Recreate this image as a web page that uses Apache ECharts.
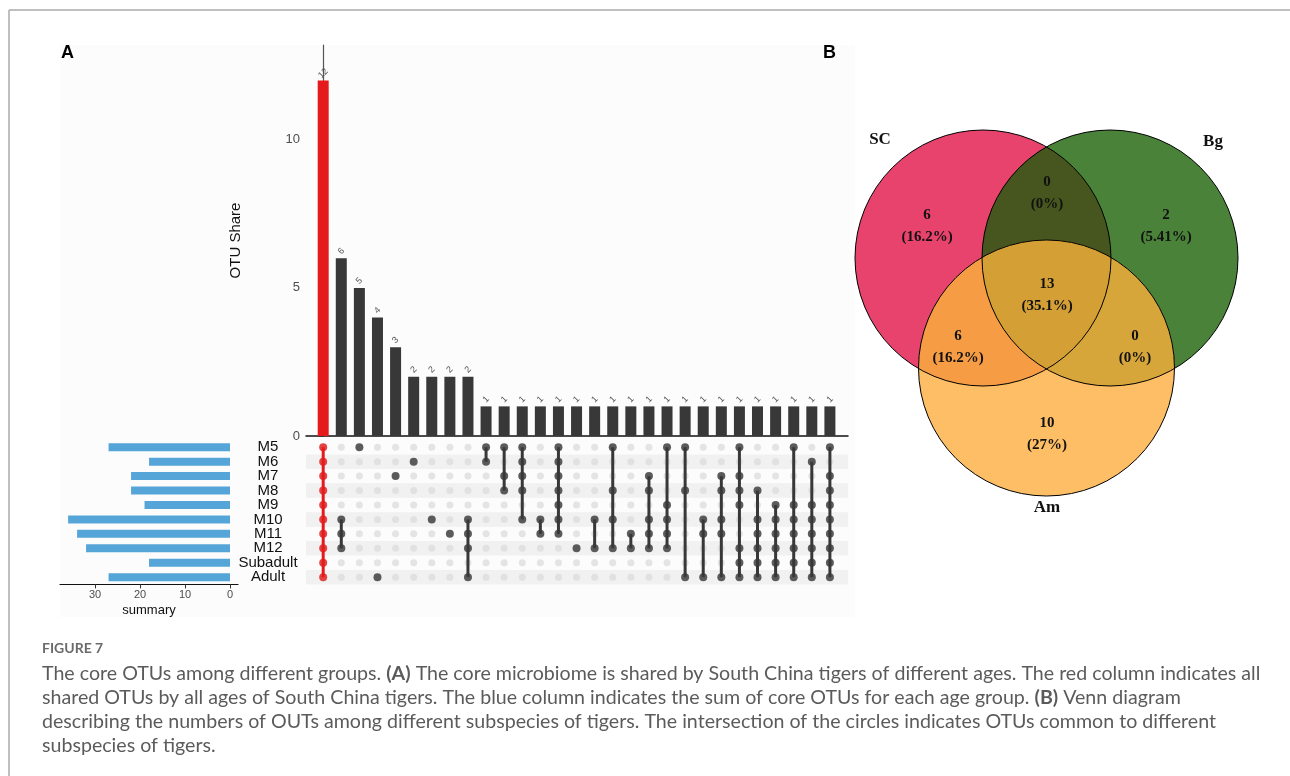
<!DOCTYPE html>
<html><head><meta charset="utf-8">
<script src="https://cdn.jsdelivr.net/npm/echarts@6/dist/echarts.min.js"></script>
<style>html,body{margin:0;padding:0;background:#fff}#c{width:1290px;height:776px}</style>
</head><body><div id="c"></div>
<script>
// ---------------- DATA ----------------
const setNames = ['M5','M6','M7','M8','M9','M10','M11','M12','Subadult','Adult'];
const setSizes = [27,18,22,22,19,36,34,32,18,27];
const intersectionSizes = [12,6,5,4,3,2,2,2,2,1,1,1,1,1,1,1,1,1,1,1,1,1,1,1,1,1,1,1,1];
const intersectionMembers = [
  ['M5','M6','M7','M8','M9','M10','M11','M12','Subadult','Adult'],
  ['M10','M11','M12'],
  ['M5'],
  ['Adult'],
  ['M7'],
  ['M6'],
  ['M10'],
  ['M11'],
  ['M10','M11','M12','Adult'],
  ['M5','M6'],
  ['M5','M7','M8'],
  ['M5','M6','M7','M8','M10'],
  ['M10','M11'],
  ['M5','M6','M7','M8','M9','M10','M11'],
  ['M12'],
  ['M10','M12'],
  ['M5','M8','M10','M12'],
  ['M11','M12'],
  ['M7','M8','M10','M11','M12'],
  ['M5','M9','M10','M11','M12'],
  ['M5','M8','Adult'],
  ['M10','M11','Adult'],
  ['M7','M8','M10','M11','Adult'],
  ['M5','M7','M8','M9','M12','Subadult','Adult'],
  ['M8','M10','M11','M12','Subadult','Adult'],
  ['M9','M10','M11','M12','Subadult','Adult'],
  ['M5','M9','M10','M11','M12','Subadult','Adult'],
  ['M6','M9','M10','M11','M12','Subadult','Adult'],
  ['M5','M7','M8','M9','M10','M11','M12','Subadult','Adult']
];
const highlightIntersection = 0;
const topTicks = [0,5,10];
const leftTicks = [0,10,20,30];
const topAxisName = 'OTU Share';
const leftAxisName = 'summary';

const vennSetNames = ['SC','Bg','Am'];
const vennRegionKeys = ['SC','Bg','Am','SC&Bg','SC&Am','Bg&Am','SC&Bg&Am'];
const vennRegionCounts = [6,2,10,0,6,0,13];

const panelLetters = ['A','B'];
const captionTitle = 'FIGURE 7';
const captionLines = [
  'The core OTUs among different groups. {b|(A)} The core microbiome is shared by South China tigers of different ages. The red column indicates all',
  'shared OTUs by all ages of South China tigers. The blue column indicates the sum of core OTUs for each age group. {b|(B)} Venn diagram',
  'describing the numbers of OUTs among different subspecies of tigers. The intersection of the circles indicates OTUs common to different',
  'subspecies of tigers.'
];

// ---------------- LAYOUT / STYLE ----------------
const L = { gx:306, gw:542, topT:45, topH:391, mT:440, mH:144.4, leftX:60, leftW:178,
  xMin:-0.95, xMax:29, yMax:13.2, lMin:-1.78, lMax:37.8 };
const C = { red:'#E41A1C', dark:'#383838', light:'#dddddd', blue:'#56A5D9', stripe:'#f1f1f1' };
const V = { centers:{SC:[983,258], Bg:[1110,258], Am:[1046.5,368]}, r:128,
  fill:{ 'SC':'#E8436D','Bg':'#4A8239','Am':'#FDBE65','SC&Bg':'#46561E','SC&Am':'#F59C45','Bg&Am':'#D6A63B','SC&Bg&Am':'#D4A035' },
  labelPos:{ 'SC':[927,215],'Bg':[1166,215],'Am':[1047,423],'SC&Bg':[1047,182],'SC&Am':[958,336],'Bg&Am':[1135,336],'SC&Bg&Am':[1047,284] },
  namePos:{ SC:[880,140], Bg:[1213,142], Am:[1047,508] } };

// ---------------- BUILD SERIES DATA ----------------
const nCols = intersectionSizes.length;
const barData = intersectionSizes.map((v,i)=>({value:[i,v], itemStyle:{color: i===highlightIntersection?C.red:C.dark}}));
const lightDots = [];
for (let i=0;i<nCols;i++) for (let r=0;r<setNames.length;r++) lightDots.push([i,r]);
const darkDots = [];
const lineData = [];
intersectionMembers.forEach((mem,i)=>{
  const idx = mem.map(m=>setNames.indexOf(m));
  idx.forEach(r=>darkDots.push({value:[i,r], itemStyle:{color: i===highlightIntersection?C.red:C.dark}}));
  if (idx.length>1) lineData.push([i, Math.min(...idx), Math.max(...idx), i===highlightIntersection?1:0]);
});

// ---------------- VENN GEOMETRY ----------------
function inter(a,b,r){const dx=b[0]-a[0],dy=b[1]-a[1];const d=Math.hypot(dx,dy);const h=Math.sqrt(r*r-d*d/4);
  const mx=(a[0]+b[0])/2,my=(a[1]+b[1])/2;return [[mx-dy/d*h,my+dx/d*h],[mx+dy/d*h,my-dx/d*h]];}
function dist(p,c){return Math.hypot(p[0]-c[0],p[1]-c[1]);}
const R = V.r, cs = V.centers;
function regionShape(key){
  const parts = key.split('&');
  if (parts.length===1) return {type:'circle', shape:{cx:cs[key][0],cy:cs[key][1],r:R}};
  if (parts.length===2){
    const [p1,p2]=inter(cs[parts[0]],cs[parts[1]],R);
    return {type:'path', shape:{pathData:`M${p1[0]} ${p1[1]} A${R} ${R} 0 0 1 ${p2[0]} ${p2[1]} A${R} ${R} 0 0 1 ${p1[0]} ${p1[1]} Z`}};
  }
  const n=parts; const verts=[];
  [[0,1,2],[0,2,1],[1,2,0]].forEach(([i,j,k])=>{
    const pts=inter(cs[n[i]],cs[n[j]],R);
    verts.push(dist(pts[0],cs[n[k]])<dist(pts[1],cs[n[k]])?pts[0]:pts[1]);
  });
  const cx=(verts[0][0]+verts[1][0]+verts[2][0])/3, cy=(verts[0][1]+verts[1][1]+verts[2][1])/3;
  verts.sort((p,q)=>Math.atan2(p[1]-cy,p[0]-cx)-Math.atan2(q[1]-cy,q[0]-cx));
  let d=`M${verts[0][0]} ${verts[0][1]}`;
  for(let t=1;t<=3;t++){const v=verts[t%3];d+=` A${R} ${R} 0 0 1 ${v[0]} ${v[1]}`;}
  return {type:'path', shape:{pathData:d+' Z'}};
}
const total = vennRegionCounts.reduce((a,b)=>a+b,0);

// ---------------- GRAPHIC (frame, letters, caption) ----------------
const g = [];
g.push({type:'rect', shape:{x:60,y:45,width:795,height:572}, style:{fill:'#fcfcfc'}, z:-10, silent:true});
g.push({type:'line', shape:{x1:9,y1:10,x2:1290,y2:10}, style:{stroke:'#aaaaaa',lineWidth:1.5}, z:10});
g.push({type:'line', shape:{x1:9,y1:10,x2:9,y2:776}, style:{stroke:'#aaaaaa',lineWidth:1.5}, z:10});
g.push({type:'text', x:61, y:53, style:{text:panelLetters[0], font:'bold 18px "Liberation Sans"', fill:'#000', verticalAlign:'middle'}, z:10});
g.push({type:'text', x:823, y:53, style:{text:panelLetters[1], font:'bold 18px "Liberation Sans"', fill:'#000', verticalAlign:'middle'}, z:10});
const ctx=document.createElement('canvas').getContext('2d');
ctx.font='18px Lato';
const w1=ctx.measureText(captionLines[0].replace(/\{b\|([^}]*)\}/g,'$1')).width;
const capSize=Math.max(14,Math.min(20,18*1219/w1));
g.push({type:'text', x:42, y:648, style:{text:captionTitle, font:'bold 14px Lato', fill:'#6b6b6b', verticalAlign:'middle'}, z:10});
captionLines.forEach((t,i)=>g.push({type:'text', x:42, y:674+24*i, style:{text:t, fontFamily:'Lato', fontSize:capSize, fill:'#5b5b5b', verticalAlign:'middle',
  rich:{b:{fontFamily:'Lato', fontSize:capSize, fontWeight:'bold', fill:'#5b5b5b'}}}, z:10}));

// ---------------- OPTION ----------------
const chart = echarts.init(document.getElementById('c'), null, {renderer:'canvas'});
chart.setOption({
  animation:false,
  textStyle:{fontFamily:'"Liberation Sans", Arial, sans-serif'},
  grid:[
    {left:L.gx, width:L.gw, top:L.topT, height:L.topH},
    {left:L.gx, width:L.gw, top:L.mT, height:L.mH},
    {left:L.leftX, width:L.leftW, top:L.mT, height:L.mH}
  ],
  xAxis:[
    {gridIndex:0, type:'value', min:L.xMin, max:L.xMax, axisLine:{show:true,onZero:false,lineStyle:{color:'#111',width:1.5}}, axisTick:{show:false}, axisLabel:{show:false}, splitLine:{show:false}},
    {gridIndex:1, type:'value', min:L.xMin, max:L.xMax, show:false, splitLine:{show:false}},
    {gridIndex:2, type:'value', inverse:true, min:L.lMin, max:L.lMax,
      axisLine:{show:true,onZero:false,lineStyle:{color:'#111',width:1.2}},
      axisTick:{show:true,length:4,lineStyle:{color:'#333'},customValues:leftTicks},
      axisLabel:{customValues:leftTicks, fontSize:11, color:'#4d4d4d', margin:5},
      splitLine:{show:false},
      name:leftAxisName, nameLocation:'middle', nameGap:20, nameTextStyle:{fontSize:13, color:'#111'}}
  ],
  yAxis:[
    {gridIndex:0, type:'value', min:0, max:L.yMax,
      axisLine:{show:true,lineStyle:{color:'#555',width:1.2}},
      axisTick:{show:true,length:4,lineStyle:{color:'#333'},customValues:topTicks},
      axisLabel:{customValues:topTicks, fontSize:13, color:'#4d4d4d', margin:6},
      splitLine:{show:false},
      name:topAxisName, nameLocation:'middle', nameGap:63, nameTextStyle:{fontSize:15, color:'#111'}},
    {gridIndex:1, type:'category', inverse:true, data:setNames,
      axisLine:{show:false}, axisTick:{show:false, interval:0},
      axisLabel:{fontSize:15, color:'#111', align:'center', margin:38, interval:0},
      splitArea:{show:true, interval:0, areaStyle:{color:['rgba(0,0,0,0)', C.stripe]}}},
    {gridIndex:2, type:'category', inverse:true, data:setNames, show:false}
  ],
  series:[
    {type:'bar', xAxisIndex:0, yAxisIndex:0, data:barData, barWidth:11,
      label:{show:true, position:'top', rotate:45, fontSize:9, color:'#555', distance:7, align:'center', verticalAlign:'middle'}},
    {type:'scatter', xAxisIndex:1, yAxisIndex:1, data:lightDots, symbolSize:7, itemStyle:{color:C.light}, z:2, silent:true},
    {type:'custom', xAxisIndex:1, yAxisIndex:1, data:lineData, encode:{x:0,y:[1,2]}, z:3,
      renderItem:function(params, api){
        const p1=api.coord([api.value(0),api.value(1)]);
        const p2=api.coord([api.value(0),api.value(2)]);
        return {type:'line', shape:{x1:p1[0],y1:p1[1],x2:p2[0],y2:p2[1]}, style:{stroke:api.value(3)?C.red:C.dark, lineWidth:3}};
      }},
    {type:'scatter', xAxisIndex:1, yAxisIndex:1, data:darkDots, symbolSize:8, z:4, silent:true},
    {type:'bar', xAxisIndex:2, yAxisIndex:2, data:setSizes, barWidth:8, itemStyle:{color:C.blue}},
    {type:'custom', coordinateSystem:'none', z:5, silent:true, data:vennRegionCounts.map((v,i)=>[i,v]),
      renderItem:function(params, api){
        const key=vennRegionKeys[params.dataIndex];
        const el=regionShape(key); el.style={fill:V.fill[key]}; return el;
      }},
    {type:'custom', coordinateSystem:'none', z:6, silent:true, data:vennSetNames.map((n,i)=>[i]),
      renderItem:function(params, api){
        const el=regionShape(vennSetNames[params.dataIndex]); el.style={fill:'none',stroke:'#000',lineWidth:1}; return el;
      }},
    {type:'custom', coordinateSystem:'none', z:7, silent:true, data:vennRegionCounts.map((v,i)=>[i,v]),
      renderItem:function(params, api){
        const key=vennRegionKeys[params.dataIndex]; const v=api.value(1);
        const pct=parseFloat((v/total*100).toPrecision(3)); const p=V.labelPos[key];
        return {type:'group', children:[
          {type:'text', x:p[0], y:p[1], style:{text:String(v), font:'bold 15px "Liberation Serif"', fill:'#111', align:'center', verticalAlign:'middle'}},
          {type:'text', x:p[0], y:p[1]+22, style:{text:'('+pct+'%)', font:'bold 15px "Liberation Serif"', fill:'#111', align:'center', verticalAlign:'middle'}}
        ]};
      }},
    {type:'custom', coordinateSystem:'none', z:7, silent:true, data:vennSetNames.map((n,i)=>[i]),
      renderItem:function(params, api){
        const n=vennSetNames[params.dataIndex]; const p=V.namePos[n];
        return {type:'text', x:p[0], y:p[1], style:{text:n, font:'bold 17px "Liberation Serif"', fill:'#111', align:'center', verticalAlign:'middle'}};
      }}
  ],
  graphic:{elements:g}
});
</script></body></html>
